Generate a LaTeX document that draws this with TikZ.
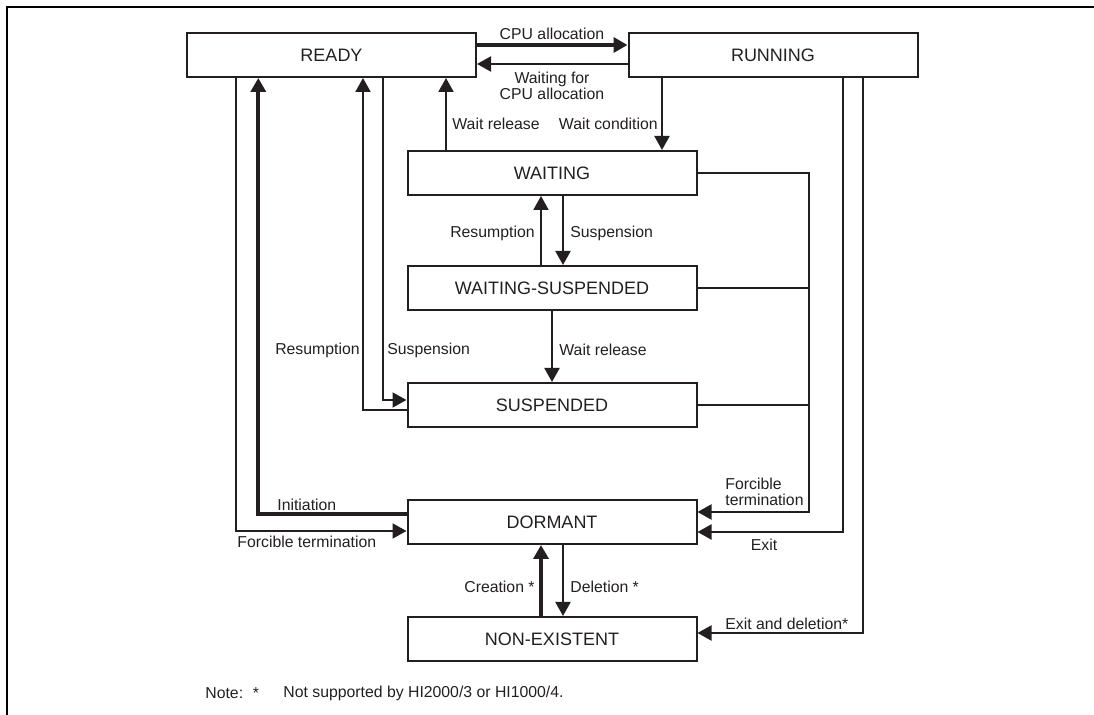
\documentclass[tikz,border=0pt]{standalone}
\usepackage{fontspec}
\setmainfont{Liberation Sans}
\usetikzlibrary{arrows.meta}
\definecolor{ink}{HTML}{231F20}
\begin{document}
\begin{tikzpicture}[x=0.5pt,y=-0.5pt,
  state/.style={draw=ink, line width=1pt, minimum width=144.5pt, minimum height=22pt,
    inner sep=0pt, text=ink, font=\fontsize{9}{11}\selectfont},
  lbl/.style={inner sep=0pt, text=ink, font=\fontsize{7.9}{8}\selectfont},
  link/.style={draw=ink, line width=1pt},
  flow/.style={link, -{Triangle[length=7pt,width=7.5pt]}},
  heavy/.style={draw=ink, line width=2pt, -{Triangle[length=7pt,width=7.5pt]}},
]
\useasboundingbox (0,0) rectangle (1094,715);

% frame
\draw[black, line width=1.1pt] (7,715) -- (7,7) -- (1094,7);

% task states
\node[state] (ready)   at (331.5,55) {READY};
\node[state] (running) at (773,55)   {RUNNING};
\node[state] (waiting) at (552,173)  {WAITING};
\node[state] (wsusp)   at (552,288)  {WAITING-SUSPENDED};
\node[state] (susp)    at (552,405)  {SUSPENDED};
\node[state] (dormant) at (552,522)  {DORMANT};
\node[state] (nonex)   at (552,639)  {NON-EXISTENT};

% READY <-> RUNNING
\draw[heavy] ([yshift=5pt]ready.east) -- ([yshift=5pt]running.west);
\draw[flow]  ([yshift=-4.5pt]running.west) -- ([yshift=-4.5pt]ready.east);
\node[lbl] (lcpu) at (552,34) {CPU allocation};
\node[lbl, align=center] (lwaitcpu) at (552,86) {Waiting for\\CPU allocation};

% RUNNING -> WAITING, WAITING -> READY
\draw[flow] ([xshift=-55.5pt]running.south) -- ([xshift=-55.5pt]running.south |- waiting.north);
\draw[flow] ([xshift=-53pt]waiting.north) -- ([xshift=-53pt]waiting.north |- ready.south);
\node[lbl, anchor=west] (lwrel1) at (452,124) {Wait release};
\node[lbl, anchor=east] (lwcond) at (658,124) {Wait condition};

% WAITING <-> WAITING-SUSPENDED
\draw[flow] ([xshift=-5.5pt]wsusp.north) -- ([xshift=-5.5pt]waiting.south);
\draw[flow] ([xshift=5.5pt]waiting.south) -- ([xshift=5.5pt]wsusp.north);
\node[lbl, anchor=east] (lres1) at (535,233) {Resumption};
\node[lbl, anchor=west] (lsus1) at (570,233) {Suspension};

% WAITING-SUSPENDED -> SUSPENDED
\draw[flow] (wsusp.south) -- (susp.north);
\node[lbl, anchor=west] (lwrel2) at (559,350) {Wait release};

% READY <-> SUSPENDED
\draw[flow] ([xshift=25.75pt]ready.south) |- ([yshift=2.5pt]susp.west);
\draw[flow] ([yshift=-2.5pt]susp.west) -| ([xshift=15.75pt]ready.south);
\node[lbl, anchor=east] (lres2) at (360,350) {Resumption};
\node[lbl, anchor=west] (lsus2) at (387,350) {Suspension};

% forcible termination of waiting / suspended tasks
\draw[flow] (waiting.east) -- ++(55.5pt,0) |- ([yshift=5pt]dormant.east);
\draw[link] (wsusp.east) -- ++(55.5pt,0);
\draw[link] (susp.east) -- ++(55.5pt,0);
\node[lbl, anchor=west, align=left] (lforce1) at (725,492) {Forcible\\termination};

% RUNNING -> DORMANT / NON-EXISTENT
\draw[flow] ([xshift=34.85pt]running.south) |- ([yshift=-5pt]dormant.east);
\draw[flow] ([xshift=45.15pt]running.south) |- ([yshift=3pt]nonex.east);
\node[lbl] (lexit) at (764,545) {Exit};
\node[lbl, anchor=west] (lexdel) at (725,624) {Exit and deletion*};

% READY <-> DORMANT
\draw[flow]  ([xshift=-47.9pt]ready.south) |- ([yshift=-4.5pt]dormant.west);
\draw[heavy] ([yshift=4pt]dormant.west) -| ([xshift=-36.6pt]ready.south);
\node[lbl, anchor=west] (linit) at (277,505) {Initiation};
\node[lbl, anchor=west] (lforce2) at (237,542) {Forcible termination};

% DORMANT <-> NON-EXISTENT
\draw[heavy] ([xshift=-5.5pt]nonex.north) -- ([xshift=-5.5pt]dormant.south);
\draw[flow]  ([xshift=5.5pt]dormant.south) -- ([xshift=5.5pt]nonex.north);
\node[lbl, anchor=east] (lcre) at (535,587) {Creation *};
\node[lbl, anchor=west] (ldel) at (570,587) {Deletion *};

% footnote
\node[lbl, anchor=west] (lnote) at (205,693) {Note:};
\node[lbl] (lstar) at (256,693) {*};
\node[lbl, anchor=west] (lnotetext) at (283,693) {Not supported by HI2000/3 or HI1000/4.};
\end{tikzpicture}
\end{document}
